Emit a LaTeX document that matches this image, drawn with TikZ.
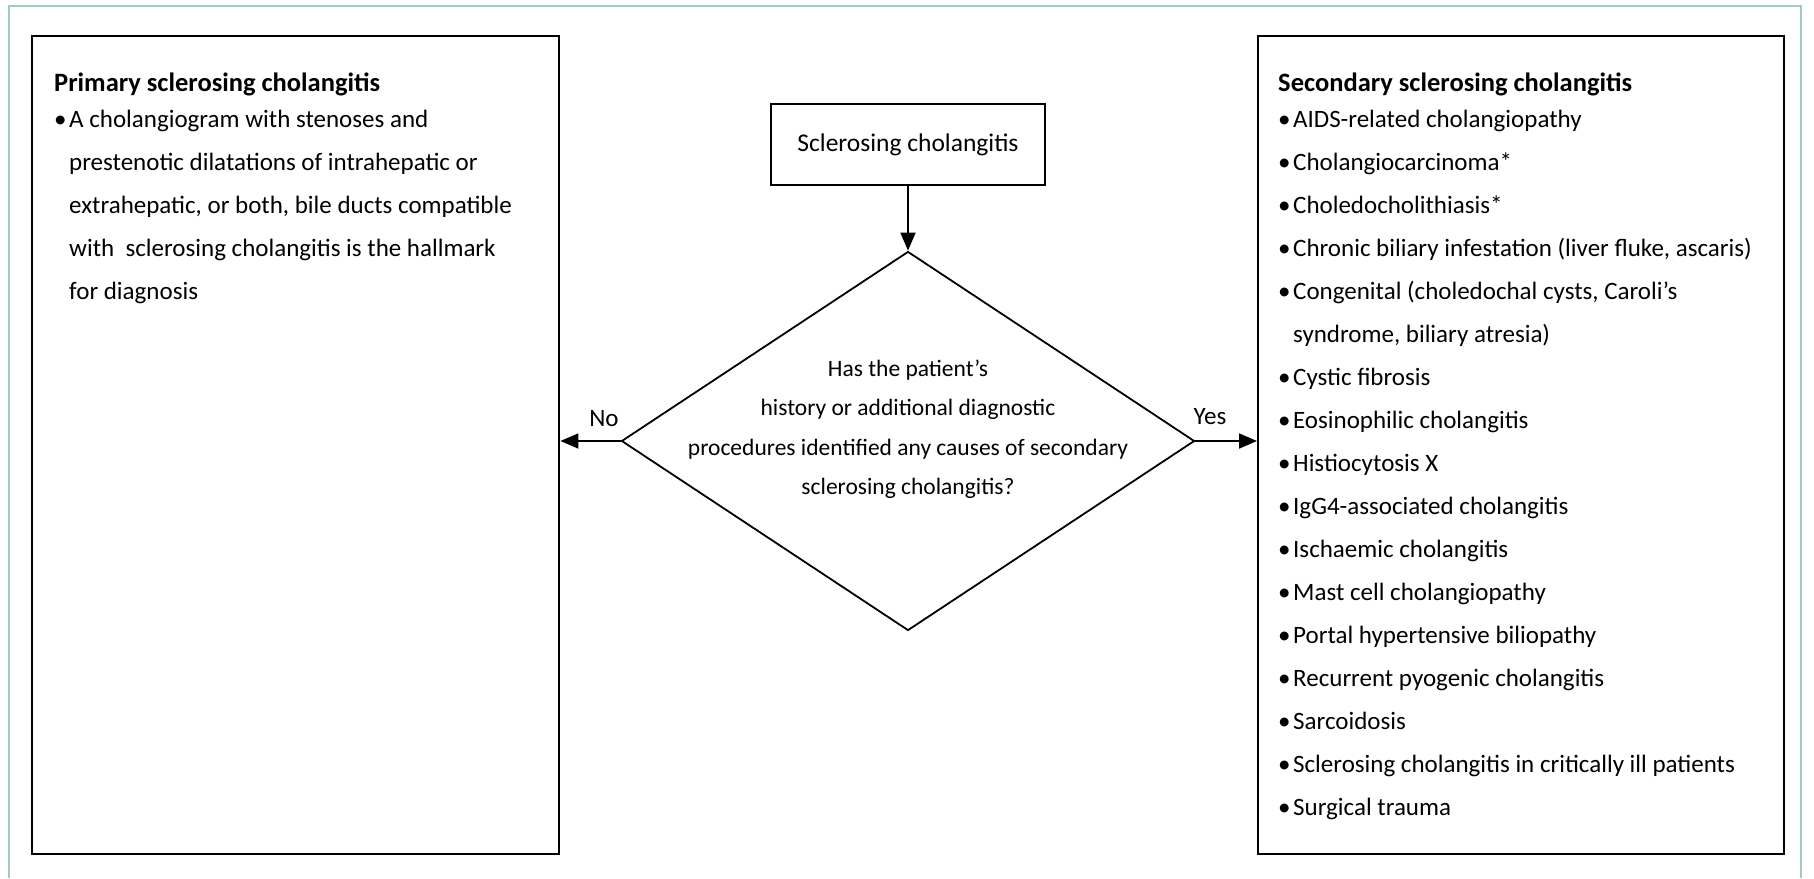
\documentclass[tikz,border=0pt]{standalone}
\usepackage{fontspec}
\setmainfont{Carlito}
\usetikzlibrary{shapes.geometric,arrows.meta}
\definecolor{framegreen}{HTML}{9ECFB6}
\newcommand{\bul}{\makebox[15pt][l]{\textbullet}}
\newcommand{\ind}{\hspace*{15pt}}
\begin{document}
\begin{tikzpicture}[x=1pt,y=-1pt,
  box/.style={draw=black, line width=2.4pt, inner sep=0pt},
  smallbox/.style={draw=black, line width=1.8pt, inner sep=0pt},
  txt/.style={font=\fontsize{25}{43}\selectfont, inner sep=0pt},
  head/.style={font=\fontsize{26.5}{43}\selectfont\bfseries, inner sep=0pt},
  arr/.style={line width=1.8pt, -{Triangle[length=18pt,width=15pt]}}]
\useasboundingbox (0,0) rectangle (1814,878);
\draw[framegreen, line width=2.2pt] (9,878) -- (9,6) -- (1801,6) -- (1801,878);

% boxes
\node[box, minimum width=527pt, minimum height=818pt, anchor=north west] (lbox) at (31,35) {};
\node[box, minimum width=526pt, minimum height=818pt, anchor=north west] (rbox) at (1257,35) {};
\node[smallbox, txt, font=\fontsize{25.5}{43}\selectfont, minimum width=274pt, minimum height=81pt] (start) at (908,144.5) {Sclerosing cholangitis};
\node[smallbox, diamond, minimum width=573pt, minimum height=379pt] (dec) at (908,441) {};

% diamond text
\node[txt, font=\fontsize{23.5}{39.5}\selectfont, align=center] (dectext) at (908,429)
  {Has the patient’s\\history or additional diagnostic\\procedures identified any causes of secondary\\sclerosing cholangitis?};

% left content
\node[head, anchor=base west] (lhead) at (54,91) {Primary sclerosing cholangitis};
\node[txt, anchor=base west] (ltext) at (54,127) {\begin{tabular}[t]{@{}l@{}}
\bul A cholangiogram with stenoses and\\
\ind prestenotic dilatations of intrahepatic or\\
\ind extrahepatic, or both, bile ducts compatible\\
\ind with\ \ sclerosing cholangitis is the hallmark\\
\ind for diagnosis
\end{tabular}};

% right content
\node[head, anchor=base west] (rhead) at (1278,91) {Secondary sclerosing cholangitis};
\node[txt, anchor=base west] (rtext) at (1278,127) {\begin{tabular}[t]{@{}l@{}}
\bul AIDS-related cholangiopathy\\
\bul Cholangiocarcinoma*\\
\bul Choledocholithiasis*\\
\bul Chronic biliary infestation (liver fluke, ascaris)\\
\bul Congenital (choledochal cysts, Caroli’s\\
\ind syndrome, biliary atresia)\\
\bul Cystic fibrosis\\
\bul Eosinophilic cholangitis\\
\bul Histiocytosis X\\
\bul IgG4-associated cholangitis\\
\bul Ischaemic cholangitis\\
\bul Mast cell cholangiopathy\\
\bul Portal hypertensive biliopathy\\
\bul Recurrent pyogenic cholangitis\\
\bul Sarcoidosis\\
\bul Sclerosing cholangitis in critically ill patients\\
\bul Surgical trauma
\end{tabular}};

% connectors
\draw[arr] (start.south) -- (dec.north);
\draw[arr] (dec.west) -- (dec.west -| lbox.east);
\draw[arr] (dec.east) -- (dec.east -| rbox.west);

% labels
\node[txt] (nolab) at (604,419) {No};
\node[txt] (yeslab) at (1210,417) {Yes};
\end{tikzpicture}
\end{document}
